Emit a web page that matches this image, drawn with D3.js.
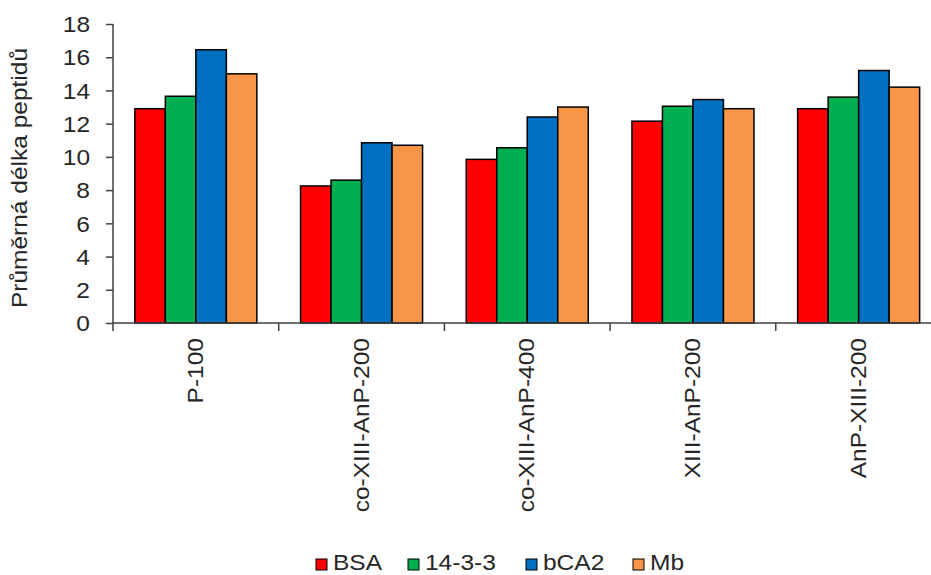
<!DOCTYPE html>
<html>
<head>
<meta charset="utf-8">
<script src="https://cdn.jsdelivr.net/npm/d3@7"></script>
<style>
  html, body { margin: 0; padding: 0; background: #fff; }
  svg { display: block; font-family: Arial, "Liberation Sans", sans-serif; }
</style>
</head>
<body>
<svg id="chart" width="931" height="575"></svg>
<script>
// Average peptide length per protease and protein
const categories = ["P-100", "co-XIII-AnP-200", "co-XIII-AnP-400", "XIII-AnP-200", "AnP-XIII-200"];
const seriesNames = ["BSA", "14-3-3", "bCA2", "Mb"];
const BSA   = [12.9, 8.25, 9.85, 12.15, 12.9];
const p1433 = [13.65, 8.6, 10.55, 13.05, 13.6];
const bCA2  = [16.45, 10.85, 12.4, 13.45, 15.2];
const Mb    = [15.0, 10.7, 13.0, 12.9, 14.2];
const seriesValues = [BSA, p1433, bCA2, Mb];
const seriesColors = ["#FF0000", "#00B050", "#0070C0", "#F79646"];
const yTicks = [0, 2, 4, 6, 8, 10, 12, 14, 16, 18];
const yTitle = "Průměrná délka peptidů";

const svg = d3.select("#chart");
const margin = { left: 113, top: 24, bottom: 323 };
const plotRight = 941.5;
const textColor = "#262626";
const axisColor = "#404040";
const fontSize = "21.5px";
const stretch = 1.14;   // text is set slightly wide along its baseline

const x = d3.scaleBand().domain(categories).range([margin.left, plotRight]).paddingInner(0).paddingOuter(0);
const xInner = d3.scaleBand().domain(seriesNames).range([0, x.bandwidth()]).paddingInner(0).paddingOuter(0.716);
const y = d3.scaleLinear().domain([0, 18]).range([margin.bottom, margin.top]);

// Bars
const groups = svg.append("g").selectAll("g")
  .data(categories)
  .join("g")
  .attr("transform", d => `translate(${x(d)},0)`);

groups.selectAll("rect")
  .data((d, i) => seriesNames.map((s, k) => ({ s, k, v: seriesValues[k][i] })))
  .join("rect")
  .attr("x", d => xInner(d.s))
  .attr("width", xInner.bandwidth())
  .attr("y", d => y(d.v))
  .attr("height", d => y(0) - y(d.v))
  .attr("fill", d => seriesColors[d.k])
  .attr("stroke", "#000")
  .attr("stroke-width", 1.5);

// Y axis
const yAxis = svg.append("g")
  .attr("transform", `translate(${margin.left},0)`)
  .call(d3.axisLeft(y).tickValues(yTicks).tickSize(7).tickPadding(16).tickSizeOuter(0));
yAxis.select(".domain").attr("stroke", axisColor).attr("stroke-width", 1.5)
  .attr("d", `M0,${margin.top}V${margin.bottom + 8}`);
yAxis.selectAll(".tick line").attr("stroke", axisColor).attr("stroke-width", 1.5);
yAxis.selectAll(".tick text")
  .attr("fill", textColor)
  .attr("x", -23 / stretch)
  .attr("dy", "0.36em")
  .attr("transform", `scale(${stretch},1)`)
  .style("font-size", fontSize)
  .attr("font-family", "Arial, 'Liberation Sans', sans-serif");

// X axis: baseline with boundary ticks between categories
const xAxisG = svg.append("g");
xAxisG.append("line")
  .attr("x1", margin.left).attr("x2", plotRight)
  .attr("y1", y(0)).attr("y2", y(0))
  .attr("stroke", axisColor).attr("stroke-width", 1.5);
xAxisG.selectAll("line.bound")
  .data(categories.slice(1))
  .join("line")
  .attr("class", "bound")
  .attr("x1", d => x(d)).attr("x2", d => x(d))
  .attr("y1", y(0)).attr("y2", y(0) + 8)
  .attr("stroke", axisColor).attr("stroke-width", 1.5);

// Rotated category labels
xAxisG.selectAll("text")
  .data(categories)
  .join("text")
  .attr("transform", d => `translate(${x(d) + x.bandwidth() / 2 + 7},${y(0) + 15}) rotate(-90) scale(${stretch},1)`)
  .attr("text-anchor", "end")
  .attr("fill", textColor)
  .style("font-size", fontSize)
  .text(d => d);

// Y axis title
svg.append("text")
  .attr("transform", `translate(27,178) rotate(-90) scale(${stretch},1)`)
  .attr("text-anchor", "middle")
  .attr("fill", textColor)
  .style("font-size", fontSize)
  .text(yTitle);

// Legend
const legendX = [316, 408, 526, 633];
const legend = svg.append("g").selectAll("g")
  .data(seriesNames)
  .join("g")
  .attr("transform", (d, i) => `translate(${legendX[i]},559)`);
legend.append("rect")
  .attr("width", 11).attr("height", 11)
  .attr("fill", (d, i) => seriesColors[i])
  .attr("stroke", "#000").attr("stroke-width", 1);
legend.append("text")
  .attr("x", 17 / stretch).attr("y", 11)
  .attr("transform", `scale(${stretch},1)`)
  .attr("fill", textColor)
  .style("font-size", fontSize)
  .text(d => d);
</script>
</body>
</html>
